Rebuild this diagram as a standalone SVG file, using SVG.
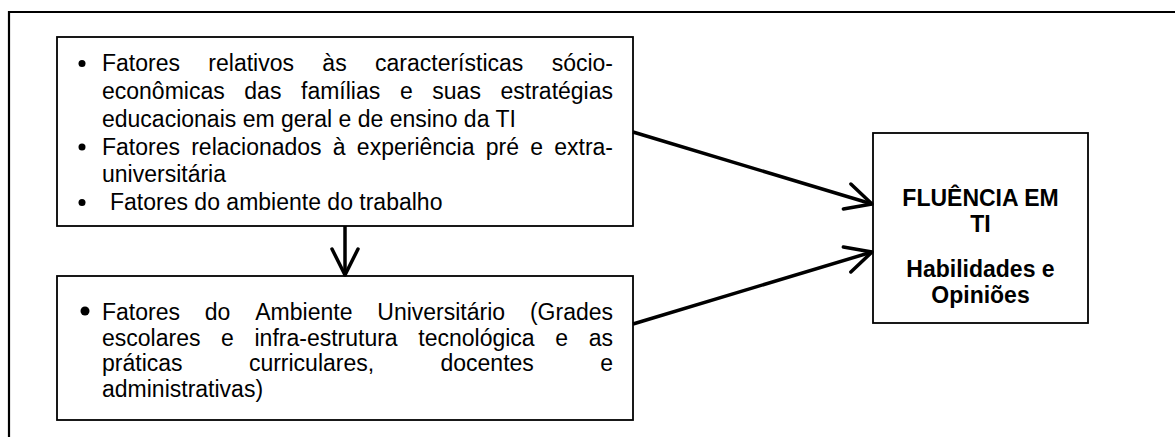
<svg xmlns="http://www.w3.org/2000/svg" width="1175" height="437" viewBox="0 0 1175 437">
<style>
.box{fill:#fff;stroke:#000;stroke-width:1.8}
.t{font-family:"Liberation Sans",Arial,sans-serif;font-size:23px;fill:#000}
.b{font-family:"Liberation Sans",Arial,sans-serif;font-size:23px;font-weight:bold;fill:#000;text-anchor:middle}
.conn{fill:none;stroke:#000;stroke-width:3.5}
</style>
<defs>
<marker id="ah" markerUnits="userSpaceOnUse" viewBox="-30 -20 40 40" markerWidth="40" markerHeight="40" refX="0" refY="0" orient="auto" overflow="visible">
<path d="M -26,-13 L 0,0 L -26,13" fill="none" stroke="#000" stroke-width="3.5" stroke-linejoin="round" stroke-linecap="round"/>
</marker>
</defs>
<rect width="1175" height="437" fill="#fff"/>
<path id="frame" d="M 9,440 L 9,12 L 1180,12" fill="none" stroke="#000" stroke-width="2.2"/>

<g id="node-fatores-familia">
<rect class="box" x="57" y="37" width="576" height="189"/>
<circle cx="82" cy="63.5" r="3.5"/>
<circle cx="82" cy="147" r="3.5"/>
<circle cx="82" cy="202.5" r="3.5"/>
<text class="t" y="71"><tspan x="102">Fatores</tspan><tspan x="208.35">relativos</tspan><tspan x="322.36">às</tspan><tspan x="375.03">características</tspan><tspan x="551.67">sócio-</tspan></text>
<text class="t" y="99"><tspan x="102">econômicas</tspan><tspan x="244.33">das</tspan><tspan x="301.03">famílias</tspan><tspan x="399.89">e</tspan><tspan x="432.3">suas</tspan><tspan x="500.5">estratégias</tspan></text>
<text class="t" x="102" y="127">educacionais em geral e de ensino da TI</text>
<text class="t" y="154.5"><tspan x="102">Fatores</tspan><tspan x="191.21">relacionados</tspan><tspan x="332.84">à</tspan><tspan x="356.87">experiência</tspan><tspan x="485.71">pré</tspan><tspan x="530.19">e</tspan><tspan x="554.22">extra-</tspan></text>
<text class="t" x="102" y="182">universitária</text>
<text class="t" x="110" y="210">Fatores do ambiente do trabalho</text>
</g>

<g id="node-ambiente-universitario">
<rect class="box" x="57" y="276" width="576" height="144"/>
<circle cx="85" cy="311" r="4.5"/>
<text class="t" y="319.5"><tspan x="102">Fatores</tspan><tspan x="204.83">do</tspan><tspan x="255.27">Ambiente</tspan><tspan x="377.28">Universitário</tspan><tspan x="529.93">(Grades</tspan></text>
<text class="t" y="345.5"><tspan x="102">escolares</tspan><tspan x="221.07">e</tspan><tspan x="254.51">infra-estrutura</tspan><tspan x="418.31">tecnológica</tspan><tspan x="555.29">e</tspan><tspan x="588.73">as</tspan></text>
<text class="t" y="371"><tspan x="102">práticas</tspan><tspan x="248.89">curriculares,</tspan><tspan x="440.5">docentes</tspan><tspan x="600.2">e</tspan></text>
<text class="t" x="102" y="396.5">administrativas)</text>
</g>

<g id="node-fluencia">
<rect class="box" x="873" y="133" width="215" height="190"/>
<text class="b" x="980.5" y="206">FLUÊNCIA EM</text>
<text class="b" x="980.5" y="232">TI</text>
<text class="b" x="980.5" y="277">Habilidades e</text>
<text class="b" x="980.5" y="303">Opiniões</text>
</g>

<g id="connectors">
<line class="conn" x1="345" y1="226" x2="345" y2="275" marker-end="url(#ah)"/>
<line class="conn" x1="633" y1="132" x2="872" y2="204" marker-end="url(#ah)"/>
<line class="conn" x1="633" y1="324" x2="872" y2="252" marker-end="url(#ah)"/>
</g>
</svg>
